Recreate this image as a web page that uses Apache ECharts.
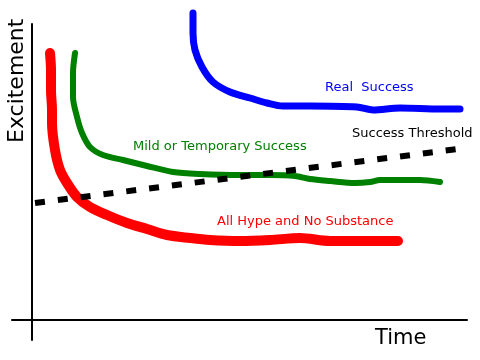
<!DOCTYPE html>
<html><head><meta charset="utf-8">
<script src="https://cdn.jsdelivr.net/npm/echarts@6/dist/echarts.min.js"></script>
<style>html,body{margin:0;padding:0;background:#fff}#c{width:480px;height:360px}</style>
</head><body><div id="c"></div>
<script>
// [time, excitement]
var hypeData = [[18,267],[19,250],[19,230],[20,210],[20,197],[23,170],[28,150],[35,137],[45,123],[58,113],[75,105],[95,97],[115,91],[135,85],[158,82],[178,80],[208,79],[238,80],[268,82],[298,79],[328,79],[366,79]];
var mildData = [[43,267],[41,247],[41,223],[45,203],[50,187],[58,173],[71,165],[91,160],[115,154],[141,148],[168,146],[208,145],[238,145],[263,144],[278,141],[298,139],[323,137],[338,138],[348,140],[368,140],[388,140],[408,138]];
var realData = [[161,307],[161,287],[163,270],[170,253],[181,238],[198,228],[218,222],[235,217],[251,214],[278,214],[325,213],[341,210],[368,212],[408,211],[428,211]];
var thresholdData = [[3,117],[434,172]];
var seriesNames = ['All Hype and No Substance','Mild or Temporary Success','Real  Success','Success Threshold'];
var axisTitles = ['Time','Excitement'];

var chart = echarts.init(document.getElementById('c'));
var F = 'DejaVu Sans';
function lbl(t, x, y, c, s) {
  return {type:'text', left:x, top:y, style:{text:t, fill:c, font: s+'px "'+F+'"'}};
}
chart.setOption({
  animation:false,
  grid:{left:12,right:13,top:24,bottom:20},
  xAxis:{type:'value',min:-20,max:435,axisLine:{onZero:true,lineStyle:{color:'#000',width:2}},axisTick:{show:false},axisLabel:{show:false},splitLine:{show:false}},
  yAxis:{type:'value',min:-20,max:296,axisLine:{show:true,onZero:true,lineStyle:{color:'#000',width:2}},axisTick:{show:false},axisLabel:{show:false},splitLine:{show:false}},
  series:[
    {name:seriesNames[0],type:'line',data:hypeData,smooth:0.3,symbol:'none',clip:false,lineStyle:{color:'#ff0000',width:10,cap:'round',join:'round'}},
    {name:seriesNames[1],type:'line',data:mildData,smooth:0.3,symbol:'none',clip:false,lineStyle:{color:'#008000',width:6,cap:'round',join:'round'}},
    {name:seriesNames[2],type:'line',data:realData,smooth:0.3,symbol:'none',clip:false,lineStyle:{color:'#0000ff',width:7,cap:'round',join:'round'}},
    {name:seriesNames[3],type:'line',data:thresholdData,symbol:'none',clip:false,lineStyle:{color:'#000',width:6,type:[10,13],cap:'butt'}}
  ],
  graphic:[
    {type:'text', x:6, y:143, rotation:Math.PI/2, style:{text:axisTitles[1], fill:'#000', font:'22px "'+F+'"'}},
    lbl(axisTitles[0], 375, 328, '#000', 21),
    lbl(seriesNames[2], 325, 81, '#0000ff', 13),
    lbl(seriesNames[3], 352, 127, '#000', 13),
    lbl(seriesNames[1], 133, 140, '#008000', 13),
    lbl(seriesNames[0], 217, 215, '#ff0000', 13)
  ]
});
</script></body></html>
